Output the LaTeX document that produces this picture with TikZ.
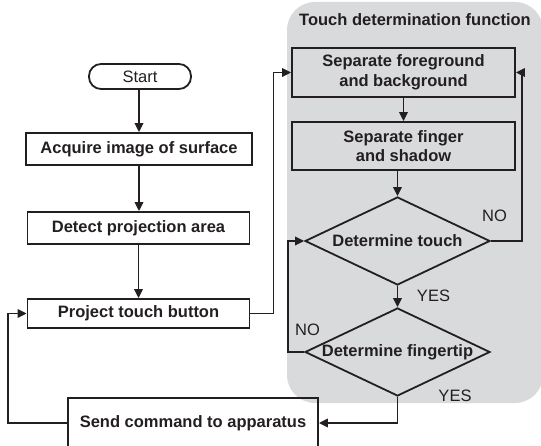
\documentclass[tikz,border=0pt]{standalone}
\usepackage{fontspec}
\setmainfont{Liberation Sans}
\usetikzlibrary{shapes.geometric,arrows.meta}
\definecolor{panel}{RGB}{217,218,220}
\definecolor{ink}{RGB}{35,31,32}
\begin{document}
\begin{tikzpicture}[x=1pt,y=-1pt,
  every node/.style={font=\fontsize{16.5}{19.5}\selectfont\bfseries, text=ink},
  box/.style={draw=ink, line width=1.8pt, rectangle, inner sep=0pt, align=center},
  dec/.style={draw=ink, line width=1.8pt, diamond, inner sep=0pt, minimum width=185pt, minimum height=88pt},
  arr/.style={draw=ink, line width=1.8pt, -{Triangle[length=9pt,width=8.5pt]}},
  lbl/.style={font=\fontsize{16.5}{19.5}\selectfont}
]
\path[use as bounding box, clip] (0,0) rectangle (541,446);
\fill[panel, rounded corners=28pt] (287,2) rectangle (543,403);
\node[font=\fontsize{16.5}{19.5}\selectfont\bfseries] (title) at (415,20) {Touch determination function};

\node[box, rounded corners=12pt, minimum width=102pt, minimum height=25pt, font=\fontsize{16.5}{19.5}\selectfont] (start) at (140,76.5) {Start};
\node[box, minimum width=226pt, minimum height=32pt] (acq) at (139,149) {Acquire image of surface};
\node[box, minimum width=222pt, minimum height=32pt] (det) at (138.5,228) {Detect projection area};
\node[box, minimum width=222pt, minimum height=29pt] (proj) at (138.5,313.5) {Project touch button};
\node[box, minimum width=250pt, minimum height=50pt] (send) at (193,423) {Send command to apparatus};

\node[box, fill=panel, minimum width=223pt, minimum height=49pt] (sfb) at (403.5,72.5) {Separate foreground\\and background};
\node[box, fill=panel, minimum width=223pt, minimum height=48pt] (sfs) at (403.5,146) {Separate finger\\and shadow};
\node[dec, label={center:Determine touch}] (dt) at (397.5,241) {};
\node[dec, label={center:Determine fingertip}] (ft) at (397.5,352) {};

\node[lbl] (no1) at (494.5,216) {NO};
\node[lbl] (yes1) at (433.5,296) {YES};
\node[lbl] (no2) at (307.5,330) {NO};
\node[lbl] (yes2) at (455,396) {YES};

\draw[arr] (start.south -| acq.north) -- (acq.north);
\draw[arr] (acq.south) -- (acq.south |- det.north);
\draw[arr] (det.south) -- (proj.north);
\draw[arr] (proj.east) -- ++(23,0) |- (sfb.west);
\draw[arr] (sfb.south) -- (sfs.north);
\draw[arr] (sfs.south -| dt.north) -- (dt.north);
\draw[arr] (dt.east) -- ++(31,0) |- (sfb.east);
\draw[arr] (dt.south) -- (ft.north);
\draw[arr] (ft.west) -- ++(-16,0) |- (dt.west);
\draw[arr] (ft.south) |- (send.east);
\draw[arr] (send.west) -- ++(-59,0) |- (proj.west);
\end{tikzpicture}
\end{document}
